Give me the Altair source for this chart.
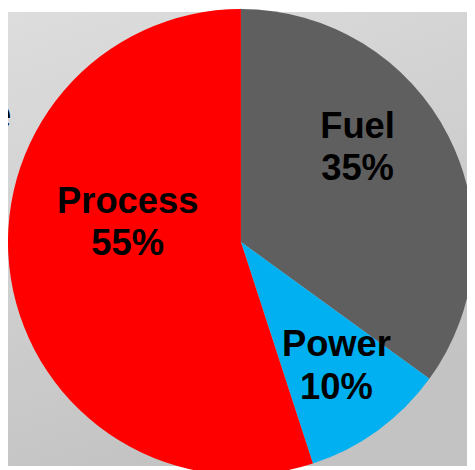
import altair as alt
import pandas as pd

# ---- data ----
categories = ["Fuel", "Power", "Process"]
shares = [35, 10, 55]
slice_colors = ["#5f5f5f", "#00b0f0", "#ff0000"]
side_text = ["e"]

df = pd.DataFrame({"category": categories, "share": shares, "rank": list(range(len(categories)))})

W, H = 467, 462
CX, CY = 237, 234
R = 237

theta_scale = alt.Scale(domain=[0, 100])

bg = alt.Chart(pd.DataFrame({"k": [0]})).mark_rect(
    color=alt.LinearGradient(
        gradient="linear",
        stops=[alt.GradientStop(color="#dddddd", offset=0),
               alt.GradientStop(color="#c3c3c3", offset=1)],
        x1=0, y1=0, x2=0.35, y2=1,
    )
).encode(x=alt.value(0), x2=alt.value(W), y=alt.value(0), y2=alt.value(H))

pie = alt.Chart(df).mark_arc(outerRadius=R).encode(
    theta=alt.Theta("share:Q", stack=True, scale=theta_scale),
    order=alt.Order("rank:Q"),
    color=alt.Color("category:N", scale=alt.Scale(domain=categories, range=slice_colors), legend=None),
    x=alt.value(CX),
    y=alt.value(CY),
)

label_base = alt.Chart(df).transform_window(
    cum="sum(share)", sort=[alt.SortField("rank")]
).transform_calculate(
    mid="datum.cum - datum.share / 2",
    label="datum.category + '\\n' + datum.share + '%'",
)

offsets = {"Fuel": (-15, -49), "Power": (9, -16), "Process": (33, -64)}
label_layers = []
for cat in categories:
    dx, dy = offsets[cat]
    label_layers.append(
        label_base.transform_filter(alt.datum.category == cat).mark_text(
            radius=150, dx=dx, dy=dy, lineBreak="\n", lineHeight=43,
            font="Liberation Sans", fontWeight="bold", fontSize=37,
            color="#000000", align="center", baseline="middle",
        ).encode(
            theta=alt.Theta("mid:Q", stack=None, scale=theta_scale),
            text="label:N",
            x=alt.value(CX),
            y=alt.value(CY),
        )
    )

side = alt.Chart(pd.DataFrame({"t": side_text})).mark_text(
    align="right", baseline="alphabetic", fontSize=46, font="Liberation Sans", color="#000000"
).encode(text="t:N", x=alt.value(4), y=alt.value(119))

chart = alt.layer(bg, pie, *label_layers, side).properties(
    width=W, height=H, padding=0, autosize="none"
).configure_view(strokeWidth=0)

chart.save("out.html", embed_options={"renderer": "svg", "actions": False})
